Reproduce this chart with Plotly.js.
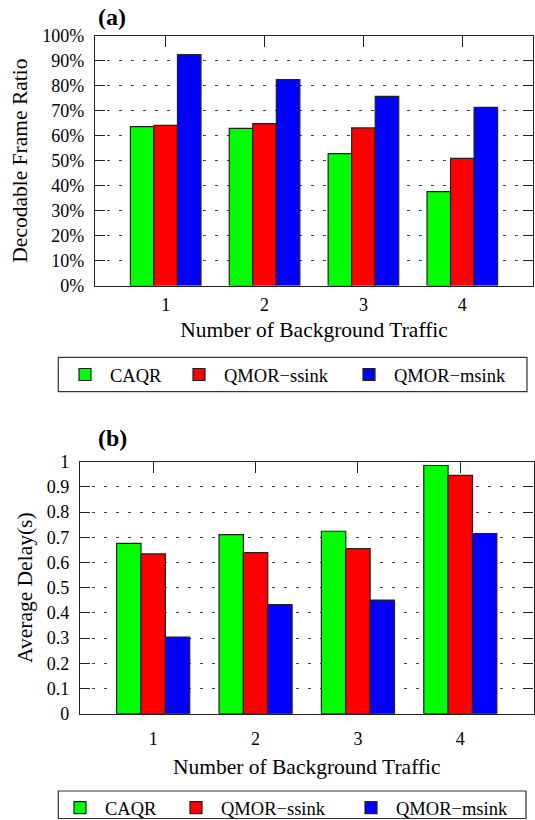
<!DOCTYPE html>
<html>
<head>
<meta charset="utf-8">
<script src="https://cdn.plot.ly/plotly-3.0.1.min.js"></script>
<style>
html,body{margin:0;padding:0;background:#fff;overflow:hidden;}
#chart{width:535px;height:820px;}
</style>
</head>
<body>
<div id="chart"></div>
<script>
// ---- data ----
const categories = [1, 2, 3, 4];
const tickLabels = ['1', '2', '3', '4'];
const seriesNames = ['CAQR', 'QMOR\u2212ssink', 'QMOR\u2212msink'];
const seriesColors = ['#00ff00', '#ff0000', '#0000ff'];

// (a) Decodable Frame Ratio (%)
const caqrRatio  = [63.6, 62.9, 52.8, 37.6];
const ssinkRatio = [64.1, 64.8, 63.1, 50.9];
const msinkRatio = [92.4, 82.4, 75.7, 71.3];

// (b) Average Delay (s)
const caqrDelay  = [0.676, 0.711, 0.724, 0.985];
const ssinkDelay = [0.634, 0.639, 0.655, 0.946];
const msinkDelay = [0.304, 0.433, 0.451, 0.715];

const FONT = '"Liberation Serif", "Times New Roman", Times, serif';
const W = 535, H = 820;
const px = v => v / W;
const py = v => 1 - v / H;

const ratioSeries = [caqrRatio, ssinkRatio, msinkRatio];
const delaySeries = [caqrDelay, ssinkDelay, msinkDelay];

// one legend object per entry so each entry can sit where the reference has it
const topLegendIds = ['legend', 'legend2', 'legend3'];
const botLegendIds = ['legend4', 'legend5', 'legend6'];
const topLegendX = [60, 174, 344];
const botLegendX = [55, 171, 346];

const traces = [];
ratioSeries.forEach((vals, i) => {
  traces.push({
    type: 'bar', x: categories, y: vals, name: seriesNames[i],
    xaxis: 'x', yaxis: 'y', legend: topLegendIds[i],
    marker: {color: seriesColors[i], line: {color: '#222', width: 1.2}},
    hoverinfo: 'x+y+name'
  });
});
delaySeries.forEach((vals, i) => {
  traces.push({
    type: 'bar', x: categories, y: vals, name: seriesNames[i],
    xaxis: 'x2', yaxis: 'y2', legend: botLegendIds[i],
    marker: {color: seriesColors[i], line: {color: '#222', width: 1.2}},
    hoverinfo: 'x+y+name'
  });
});

const axisCommon = {
  showline: true, linecolor: '#222', linewidth: 1.2, mirror: 'allticks',
  ticks: 'inside', tickcolor: '#222', tickwidth: 1.2,
  zeroline: false, fixedrange: true, automargin: false,
  tickfont: {family: FONT, size: 18, color: '#000'}
};
const xCommon = Object.assign({}, axisCommon, {
  type: 'linear', tickvals: categories, ticktext: tickLabels,
  range: [0.285, 4.715], ticklen: 11, showgrid: false, layer: 'below traces'
});
const yCommon = Object.assign({}, axisCommon, {
  ticklen: 10, showgrid: true, gridcolor: '#444', gridwidth: 1, griddash: '3px,9px'
});
const titleFont = {family: FONT, size: 21.5, color: '#000'};

const layout = {
  width: W, height: H, autosize: false,
  margin: {l: 0, r: 0, t: 0, b: 0, pad: 0, autoexpand: false},
  paper_bgcolor: '#fff', plot_bgcolor: '#fff',
  font: {family: FONT, color: '#000'},
  barmode: 'group', bargap: 0.286, bargroupgap: 0,
  xaxis: Object.assign({}, xCommon, {
    domain: [px(95), px(533)], anchor: 'y', ticklabelstandoff: 3,
    title: {text: 'Number of Background Traffic', standoff: 7, font: titleFont}
  }),
  yaxis: Object.assign({}, yCommon, {
    domain: [py(285.5), py(35.7)], anchor: 'x',
    range: [0, 100], dtick: 10, tick0: 0, ticksuffix: '%',
    ticklabelstandoff: 6,
    title: {text: 'Decodable Frame Ratio', standoff: 8, font: titleFont}
  }),
  xaxis2: Object.assign({}, xCommon, {
    domain: [px(80), px(533.5)], anchor: 'y2', ticklabelstandoff: 9,
    title: {text: 'Number of Background Traffic', standoff: 10, font: titleFont}
  }),
  yaxis2: Object.assign({}, yCommon, {
    domain: [py(713.7), py(461.7)], anchor: 'x2',
    range: [0, 1], dtick: 0.1, tick0: 0,
    ticklabelstandoff: 6,
    title: {text: 'Average Delay(s)', standoff: 8, font: titleFont}
  }),
  shapes: [
    {type: 'rect', xref: 'paper', yref: 'paper', x0: px(58.3), x1: px(527), y0: py(391.7), y1: py(357.3),
     line: {color: '#333', width: 1.2}, fillcolor: 'rgba(0,0,0,0)', layer: 'below'},
    {type: 'rect', xref: 'paper', yref: 'paper', x0: px(58.3), x1: px(526), y0: py(818.5), y1: py(791),
     line: {color: '#333', width: 1.2}, fillcolor: 'rgba(0,0,0,0)', layer: 'below'}
  ],
  annotations: [
    {text: '<b>(a)</b>', xref: 'paper', yref: 'paper', x: px(96), y: py(17), xanchor: 'left', yanchor: 'middle',
     showarrow: false, font: {family: FONT, size: 24, color: '#000'}},
    {text: '<b>(b)</b>', xref: 'paper', yref: 'paper', x: px(96), y: py(437.5), xanchor: 'left', yanchor: 'middle',
     showarrow: false, font: {family: FONT, size: 24, color: '#000'}}
  ],
  showlegend: true
};

function legendDef(xpix, ypix) {
  return {
    orientation: 'h', x: px(xpix), xanchor: 'left', y: py(ypix), yanchor: 'middle',
    font: {family: FONT, size: 18.5, color: '#000'},
    bgcolor: 'rgba(0,0,0,0)', borderwidth: 0, itemwidth: 40,
    itemclick: false, itemdoubleclick: false
  };
}
topLegendIds.forEach((id, i) => { layout[id] = legendDef(topLegendX[i], 375); });
botLegendIds.forEach((id, i) => { layout[id] = legendDef(botLegendX[i], 808); });

Plotly.newPlot('chart', traces, layout, {displayModeBar: false, responsive: false});
</script>
</body>
</html>
